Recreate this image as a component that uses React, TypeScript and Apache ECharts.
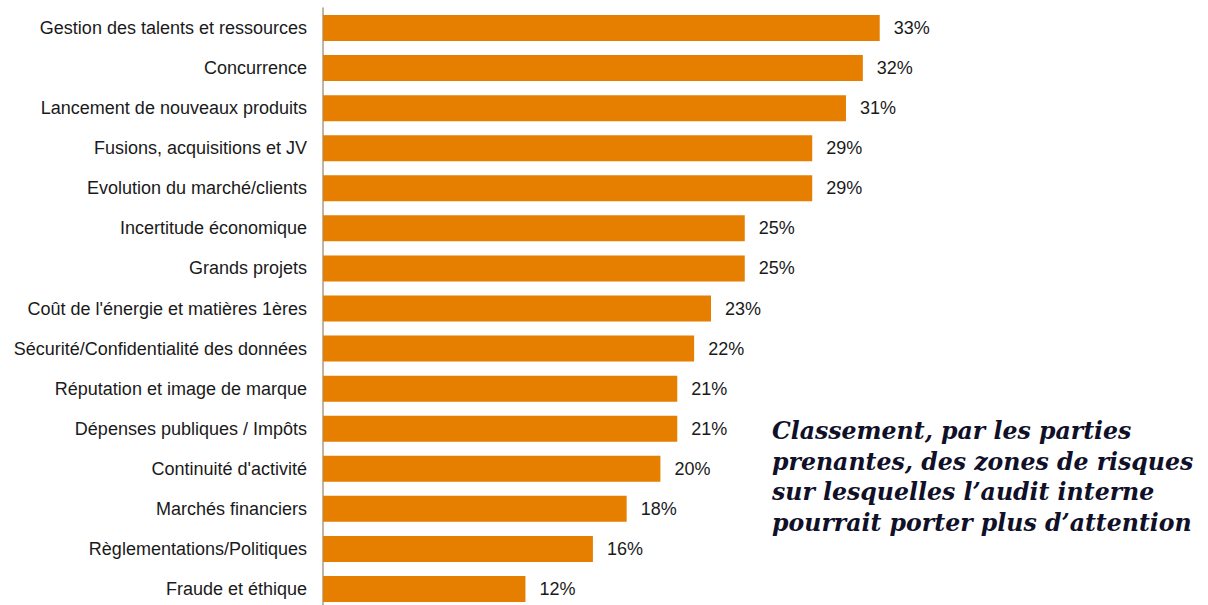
import React, { useEffect, useRef } from "react";
import * as echarts from "echarts";

const categories: string[] = [
  "Gestion des talents et ressources",
  "Concurrence",
  "Lancement de nouveaux produits",
  "Fusions, acquisitions et JV",
  "Evolution du marché/clients",
  "Incertitude économique",
  "Grands projets",
  "Coût de l'énergie et matières 1ères",
  "Sécurité/Confidentialité des données",
  "Réputation et image de marque",
  "Dépenses publiques / Impôts",
  "Continuité d'activité",
  "Marchés financiers",
  "Règlementations/Politiques",
  "Fraude et éthique",
];

const values: number[] = [33, 32, 31, 29, 29, 25, 25, 23, 22, 21, 21, 20, 18, 16, 12];

const noteLines: string[] = [
  "Classement, par les parties",
  "prenantes, des zones de risques",
  "sur lesquelles l\u2019audit interne",
  "pourrait porter plus d\u2019attention",
];

export default function App() {
  const ref = useRef<HTMLDivElement>(null);
  useEffect(() => {
    if (!ref.current) return;
    const chart = echarts.init(ref.current, null, { renderer: "svg" });
    chart.setOption({
      animation: false,
      backgroundColor: "#ffffff",
      grid: { left: 323, top: 8, height: 601, width: 674.8, containLabel: false },
      xAxis: {
        type: "value",
        min: 0,
        max: 40,
        show: false,
      },
      yAxis: {
        type: "category",
        inverse: true,
        data: categories,
        axisLine: { show: true, lineStyle: { color: "#a89c86", width: 1.5 } },
        axisTick: { show: false },
        axisLabel: {
          margin: 16,
          fontFamily: "Liberation Sans, Arial, sans-serif",
          fontSize: 18,
          color: "#1a1a1a",
        },
      },
      series: [
        {
          type: "bar",
          data: values,
          barWidth: 26,
          itemStyle: { color: "#E67E00" },
          label: {
            show: true,
            position: "right",
            distance: 14,
            formatter: "{c}%",
            fontFamily: "Liberation Sans, Arial, sans-serif",
            fontSize: 18,
            color: "#1a1a1a",
          },
        },
      ],
      graphic: [
        {
          type: "text",
          left: 772,
          top: 416,
          style: {
            text: noteLines.join("\n"),
            fontFamily: "DejaVu Serif, serif",
            fontStyle: "italic",
            fontWeight: "bold",
            fontSize: 23.6,
            lineHeight: 30.5,
            fill: "#101028",
          },
        },
      ],
    });
    return () => chart.dispose();
  }, []);
  return (
    <div
      ref={ref}
      style={{ position: "fixed", left: 0, top: 0, width: 1208, height: 615 }}
    />
  );
}
